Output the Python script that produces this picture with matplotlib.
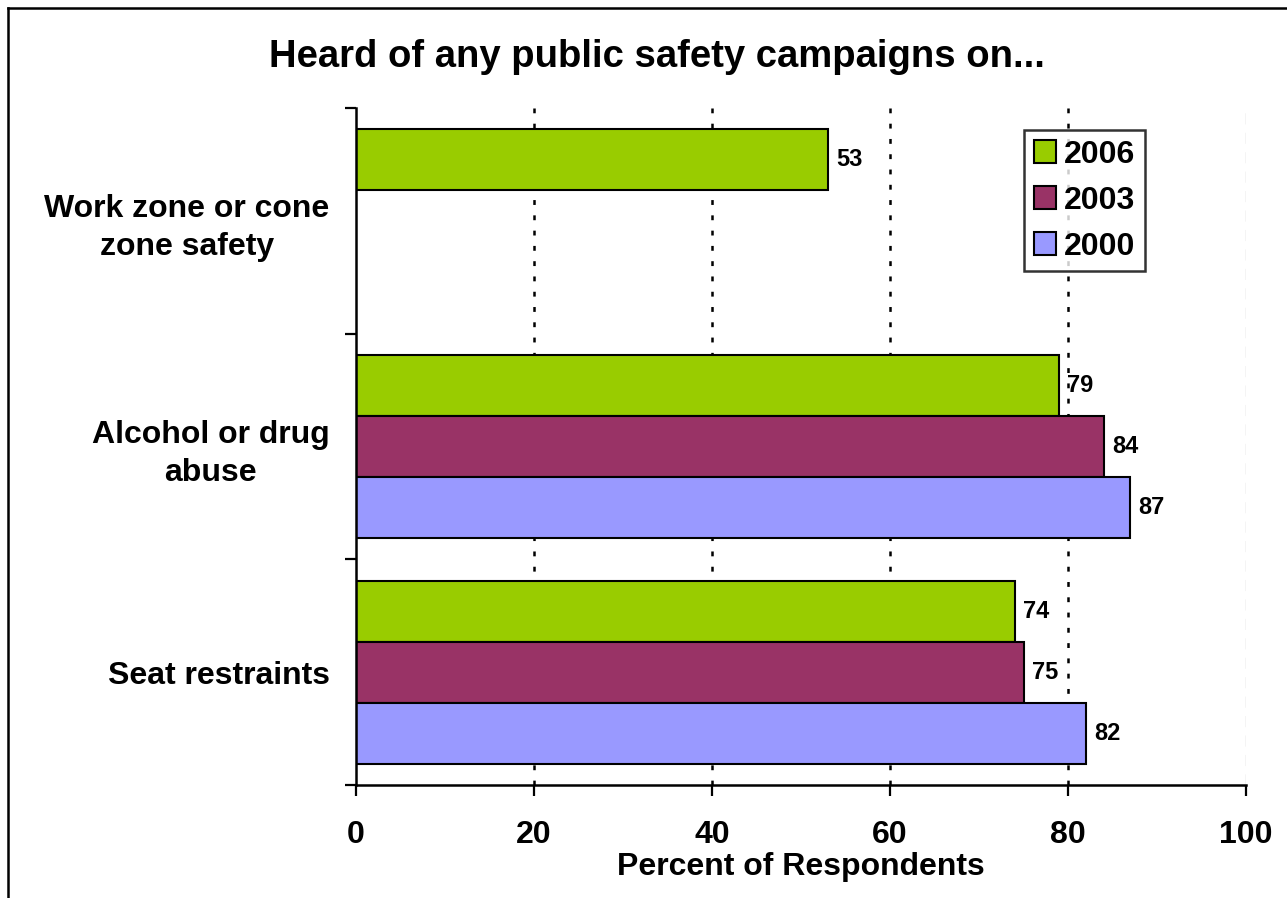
import numpy as np
import matplotlib
matplotlib.use("Agg")
import matplotlib.pyplot as plt
from matplotlib.lines import Line2D

plt.rcParams['font.family'] = ['Liberation Sans', 'DejaVu Sans']
plt.rcParams['font.weight'] = 'bold'
plt.rcParams['lines.scale_dashes'] = False

# Survey data
categories = ["Seat restraints", "Alcohol or drug\nabuse", "Work zone or cone\nzone safety"]
years = ["2006", "2003", "2000"]
values_2006 = [74, 79, 53]
values_2003 = [75, 84, np.nan]
values_2000 = [82, 87, np.nan]
colors = ["#99CC00", "#993366", "#9999FF"]
x_ticks = [0, 20, 40, 60, 80, 100]

W, H = 1287, 898
fig = plt.figure(figsize=(W / 100, H / 100), dpi=100)
ax = fig.add_axes([356 / W, 1 - 785 / H, (1246 - 356) / W, (785 - 108) / H])

series = [values_2006, values_2003, values_2000]
bar_h = 0.27
offsets = [bar_h, 0.0, -bar_h]
ypos = np.arange(len(categories))

# gridlines behind bars
for xv in x_ticks[1:-1]:
    ax.axvline(xv, color="black", lw=1.8, linestyle=(0, (3.5, 7.5)), zorder=0)
ax.axvline(100, color="#AAAAAA", lw=0.9, linestyle=(0, (8, 6)), zorder=0)

for vals, off, col, lab in zip(series, offsets, colors, years):
    vals = np.asarray(vals, dtype=float)
    ax.barh(ypos + off, vals, height=bar_h, color=col,
            edgecolor="black", linewidth=1.5, label=lab, zorder=2)
    for y, v in zip(ypos + off, vals):
        if np.isfinite(v):
            ax.annotate(f"{v:.0f}", xy=(v, y), xytext=(6, 0),
                        textcoords="offset points", ha="left", va="center",
                        fontsize=17, fontweight="bold", zorder=3)

ax.set_xlim(0, 100)
ax.set_ylim(-0.5, len(categories) - 0.5)

ax.set_xticks(x_ticks)
ax.set_xticklabels([str(t) for t in x_ticks], fontsize=23, fontweight="bold")
ax.tick_params(axis="x", direction="out", length=8, width=1.6, pad=17)

ax.set_yticks(np.arange(-0.5, len(categories), 1.0))
ax.set_yticklabels([])
ax.tick_params(axis="y", which="major", direction="out", length=8, width=1.6)
ax.set_yticks(ypos, minor=True)
ax.set_yticklabels(categories, minor=True, fontsize=23, fontweight="bold",
                   multialignment="center", linespacing=1.35)
ax.tick_params(axis="y", which="minor", length=0, pad=19)

for s in ["top", "right"]:
    ax.spines[s].set_visible(False)
for s in ["left", "bottom"]:
    ax.spines[s].set_linewidth(1.8)

ax.set_xlabel("Percent of Respondents", fontsize=23, fontweight="bold", labelpad=2)

leg = ax.legend(loc="upper right", bbox_to_anchor=((1145 - 356) / 890, (785 - 130) / 677),
                fontsize=23, frameon=True, fancybox=False, handlelength=0.7,
                handleheight=0.7, handletextpad=0.25, labelspacing=0.5,
                borderpad=0.3, borderaxespad=0)
leg.get_frame().set_edgecolor("black")
leg.get_frame().set_linewidth(1.8)
for t in leg.get_texts():
    t.set_fontweight("bold")

fig.text(657 / W, 1 - 57 / H, "Heard of any public safety campaigns on...",
         ha="center", va="center", fontsize=27.5, fontweight="bold")

# outer frame (left and top edges)
fig.add_artist(Line2D([8 / W, 8 / W], [0, 1 - 8 / H], transform=fig.transFigure,
                      color="black", lw=1.8))
fig.add_artist(Line2D([8 / W, 1], [1 - 8 / H, 1 - 8 / H], transform=fig.transFigure,
                      color="black", lw=1.8))

fig.savefig("out.png", dpi=100)
